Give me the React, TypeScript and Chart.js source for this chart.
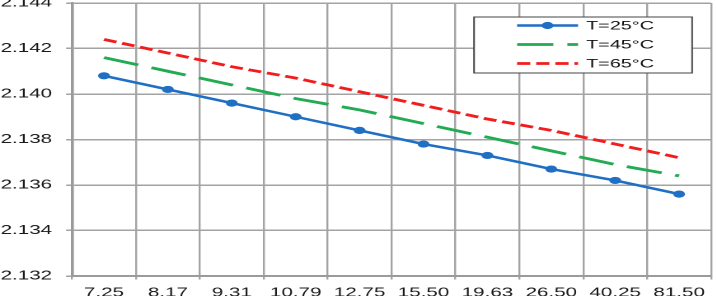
import React, { useEffect, useRef } from "react";
import { Chart, registerables } from "chart.js";

Chart.register(...registerables);

const categories = ["7.25", "8.17", "9.31", "10.79", "12.75", "15.50", "19.63", "26.50", "40.25", "81.50"];
const seriesLabels = ["T=25°C", "T=45°C", "T=65°C"];
const t25 = [2.1408, 2.1402, 2.1396, 2.139, 2.1384, 2.1378, 2.1373, 2.1367, 2.1362, 2.1356];
const t45 = [2.1416, 2.141, 2.1404, 2.1398, 2.1393, 2.1387, 2.1381, 2.1375, 2.1369, 2.1364];
const t65 = [2.1424, 2.1418, 2.1412, 2.1407, 2.1401, 2.1395, 2.1389, 2.1384, 2.1378, 2.1372];
const yMin = 2.132;
const yMax = 2.144;
const yStep = 0.002;

const FONT = "'Liberation Sans', Arial, sans-serif";
const TOP = -13;
const CW = 435;
const CH = 296 - TOP;
const SX = 717 / CW;

const legendPlugin = {
  id: "boxLegend",
  afterDraw(chart: any) {
    const ctx = chart.ctx;
    const dy = -TOP;
    const x0 = 287.6, x1 = 419.9, y0 = 17 + dy, y1 = 73 + dy;
    ctx.save();
    ctx.fillStyle = "#ffffff";
    ctx.fillRect(x0, y0, x1 - x0, y1 - y0);
    ctx.strokeStyle = "#444";
    ctx.lineWidth = 1;
    ctx.strokeRect(x0, y0, x1 - x0, y1 - y0);
    const rows = [25.5 + dy, 44.5 + dy, 63.5 + dy];
    chart.data.datasets.forEach((ds: any, i: number) => {
      const y = rows[i];
      ctx.beginPath();
      ctx.setLineDash(ds.borderDash || []);
      ctx.strokeStyle = ds.borderColor;
      ctx.lineWidth = ds.borderWidth;
      ctx.moveTo(313.7, y);
      ctx.lineTo(350.7, y);
      ctx.stroke();
      ctx.setLineDash([]);
      if (ds.pointRadius > 0) {
        ctx.beginPath();
        ctx.fillStyle = ds.borderColor;
        ctx.arc((313.7 + 350.7) / 2, y, ds.pointRadius, 0, Math.PI * 2);
        ctx.fill();
      }
      ctx.fillStyle = "#111";
      ctx.font = `12px ${FONT}`;
      ctx.textBaseline = "middle";
      ctx.textAlign = "left";
      ctx.fillText(ds.label, 355.6, y + 0.5);
    });
    ctx.restore();
  },
};

export default function App() {
  const ref = useRef<HTMLCanvasElement>(null);
  useEffect(() => {
    if (!ref.current) return;
    const chart = new Chart(ref.current, {
      type: "line",
      data: {
        labels: categories,
        datasets: [
          {
            label: seriesLabels[0],
            data: t25,
            borderColor: "#1f6fc4",
            backgroundColor: "#1f6fc4",
            borderWidth: 2.5,
            pointRadius: 3.6,
            pointHoverRadius: 3.6,
            pointBorderWidth: 0,
            tension: 0,
          },
          {
            label: seriesLabels[1],
            data: t45,
            borderColor: "#22ab52",
            backgroundColor: "#22ab52",
            borderWidth: 2.8,
            borderDash: [22, 8.5],
            pointRadius: 0,
            tension: 0,
          },
          {
            label: seriesLabels[2],
            data: t65,
            borderColor: "#f21c1c",
            backgroundColor: "#f21c1c",
            borderWidth: 2.8,
            borderDash: [8, 3.6],
            pointRadius: 0,
            tension: 0,
          },
        ],
      },
      options: {
        animation: false,
        responsive: false,
        devicePixelRatio: 2,
        layout: { padding: { top: 0, right: 1, left: 0, bottom: 0 } },
        plugins: { legend: { display: false }, tooltip: { enabled: false } },
        scales: {
          x: {
            type: "category",
            offset: true,
            grid: { offset: true, color: "#a3a3a3", lineWidth: 1.2, tickLength: 3.5, drawTicks: true },
            border: { color: "#9a9a9a", width: 1.8 },
            ticks: {
              font: { family: FONT, size: 12.5 },
              color: "#1a1a1a",
              padding: 6,
              maxRotation: 0,
              autoSkip: false,
            },
            afterFit: (s: any) => {
              s.height = 20;
            },
          },
          y: {
            min: yMin,
            max: yMax,
            grid: { color: "#a3a3a3", lineWidth: 1.5, tickLength: 3.6 },
            border: { color: "#9a9a9a", width: 1.8 },
            ticks: {
              stepSize: yStep,
              font: { family: FONT, size: 12.5 },
              color: "#1a1a1a",
              padding: 8.5,
              callback: (v: any) => Number(v).toFixed(3),
            },
            afterFit: (s: any) => {
              s.width = 43.7;
            },
          },
        },
      },
      plugins: [legendPlugin],
    });
    return () => chart.destroy();
  }, []);
  return (
    <div style={{ position: "absolute", left: 0, top: 0, width: 717, height: 296, overflow: "hidden", background: "#fff" }}>
      <div
        style={{
          position: "absolute",
          left: 0,
          top: TOP,
          width: CW,
          height: CH,
          transform: `scaleX(${SX})`,
          transformOrigin: "0 0",
        }}
      >
        <canvas ref={ref} width={CW} height={CH} style={{ width: CW, height: CH, display: "block" }} />
      </div>
    </div>
  );
}
